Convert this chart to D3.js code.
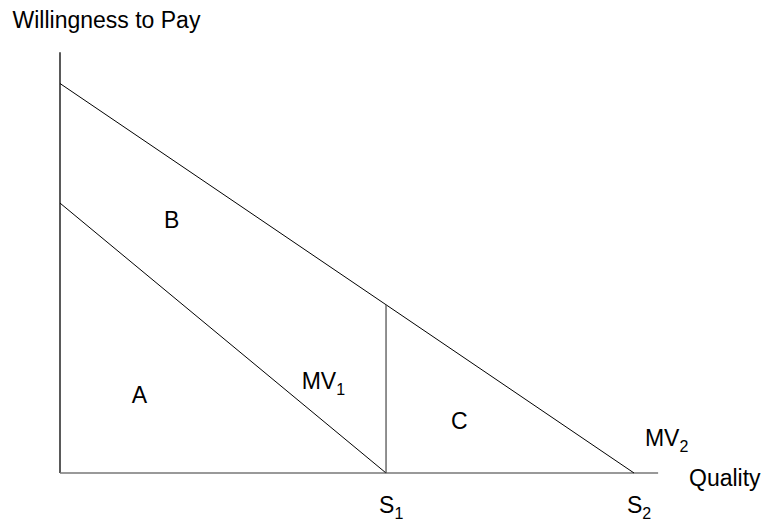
<html>
<head>
<title>Willingness to Pay</title>
<script type="text/javascript" src="https://cdn.jsdelivr.net/npm/d3@7/dist/d3.min.js"></script>
<style type="text/css">
body { margin: 0; background: white; }
text { font-family: Arial, "Liberation Sans", sans-serif; font-size: 23px; fill: #000; }
.sub { font-size: 16px; }
</style>
</head>
<body>
<script>

  var width = 770,
  height = 529;

  // quality levels on the x axis
  var qualityTicks = [{name: "S", sub: "1", q: 5.68}, {name: "S", sub: "2", q: 10}];
  // marginal valuation curves: [quality, willingness to pay]
  var mv1 = [[0, 6.93], [5.68, 0]];
  var mv2 = [[0, 10], [10, 0]];
  var axisMax = [10.42, 10.8];
  // region labels in data units
  var regions = [
    {label: "A", q: 1.25, w: 1.8},
    {label: "B", q: 1.81, w: 6.29},
    {label: "C", q: 6.81, w: 1.13}
  ];
  var curveLabels = [
    {name: "MV", sub: "1", q: 4.21, w: 2.15},
    {name: "MV", sub: "2", q: 10.19, w: 0.69}
  ];

  var svg = d3.select("body").append("svg").attr("width", width).attr("height", height).style("background", "white");

  var x = d3.scaleLinear().domain([0, 10]).range([60, 634]);
  var y = d3.scaleLinear().domain([0, 10]).range([473, 83.5]);

  // axes
  svg.append("line")
    .attr("x1", x(0)).attr("y1", y(0))
    .attr("x2", x(0)).attr("y2", y(axisMax[1]))
    .attr("stroke", "#000").attr("stroke-width", 1.3);

  svg.append("line")
    .attr("x1", x(0)).attr("y1", y(0))
    .attr("x2", x(axisMax[0])).attr("y2", y(0))
    .attr("stroke", "#777").attr("stroke-width", 1.5);

  var liner = d3.line()
    .x(function(d){ return x(d[0]); })
    .y(function(d){ return y(d[1]); });

  svg.selectAll(".mv")
    .data([mv1, mv2])
    .enter().append("path")
    .attr("class", "mv")
    .attr("d", liner)
    .attr("stroke", "#000")
    .attr("stroke-width", 1)
    .attr("fill", "none");

  // vertical line at S1 up to MV2
  var s1 = qualityTicks[0].q;
  var mv2At = d3.scaleLinear().domain([mv2[0][0], mv2[1][0]]).range([mv2[0][1], mv2[1][1]]);
  svg.append("line")
    .attr("x1", x(s1)).attr("y1", y(0))
    .attr("x2", x(s1)).attr("y2", y(mv2At(s1)))
    .attr("stroke", "#555").attr("stroke-width", 1.3);

  function subText(sel) {
    sel.append("tspan").text(function(d){ return d.name; });
    sel.append("tspan").attr("class", "sub").attr("dy", 6).text(function(d){ return d.sub; });
  }

  svg.selectAll(".tick")
    .data(qualityTicks)
    .enter().append("text")
    .attr("class", "tick")
    .attr("x", function(d){ return x(d.q) - 7; })
    .attr("y", 513)
    .call(subText);

  svg.selectAll(".curve")
    .data(curveLabels)
    .enter().append("text")
    .attr("class", "curve")
    .attr("x", function(d){ return x(d.q); })
    .attr("y", function(d){ return y(d.w); })
    .call(subText);

  svg.selectAll(".region")
    .data(regions)
    .enter().append("text")
    .attr("class", "region")
    .attr("x", function(d){ return x(d.q); })
    .attr("y", function(d){ return y(d.w); })
    .text(function(d){ return d.label; });

  svg.append("text").attr("x", 12.5).attr("y", 28.3).text("Willingness to Pay");
  svg.append("text").attr("x", 689).attr("y", 485.7).text("Quality");

</script>
</body>
</html>
